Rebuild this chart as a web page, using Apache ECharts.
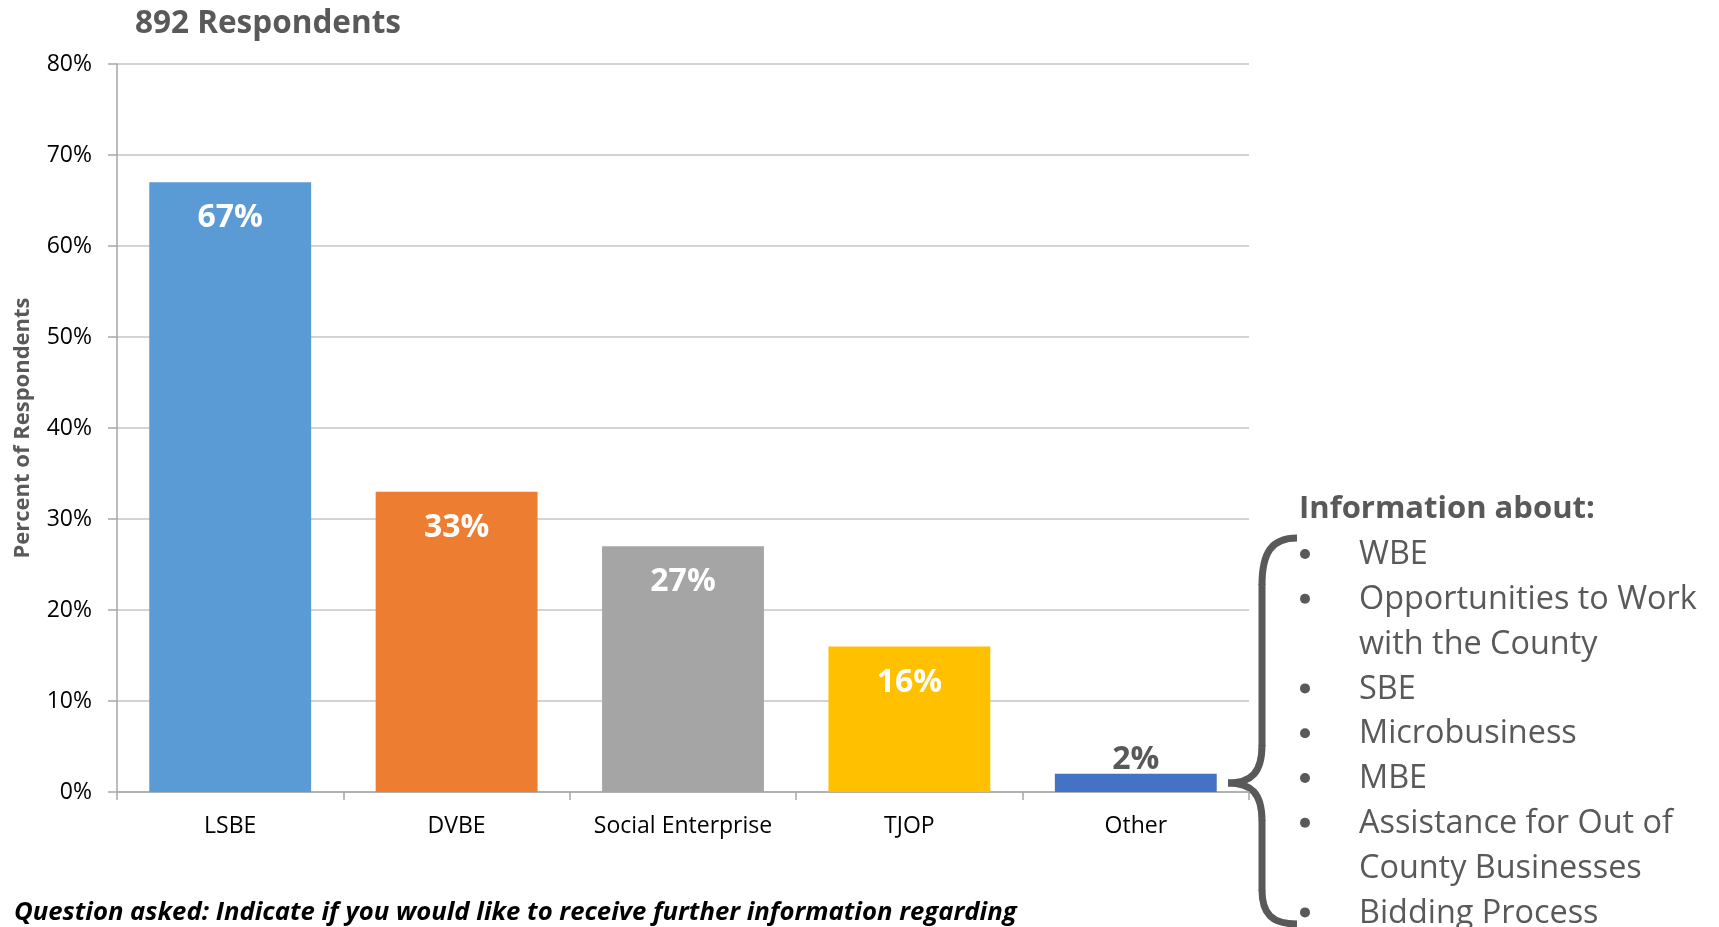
<!DOCTYPE html>
<html>
<head>
<meta charset="utf-8">
<title>892 Respondents</title>
<script src="https://cdn.jsdelivr.net/npm/echarts@6/dist/echarts.min.js"></script>
<style>
  html, body { margin: 0; padding: 0; background: #ffffff; }
  #chart { width: 1719px; height: 927px; }
</style>
</head>
<body>
<div id="chart"></div>
<script>
// Survey data: share of respondents wanting more information, by program
const categories = ['LSBE', 'DVBE', 'Social Enterprise', 'TJOP', 'Other'];
const percentValues = [67, 33, 27, 16, 2];
const barColors = ['#5B9BD5', '#ED7D31', '#A5A5A5', '#FFC000', '#4472C4'];

// Y axis range and tick step (percent)
const yMin = 0;
const yMax = 80;
const yStep = 10;

// Text blocks
const chartTitle = '892 Respondents';
const yAxisTitle = 'Percent of Respondents';
const footnote = 'Question asked: Indicate if you would like to receive further information regarding';
const sideHeading = 'Information about:';
// Each topic can wrap over several lines
const sideTopics = [
  ['WBE'],
  ['Opportunities to Work', 'with the County'],
  ['SBE'],
  ['Microbusiness'],
  ['MBE'],
  ['Assistance for Out of', 'County Businesses'],
  ['Bidding Process']
];

const FONT = '"Open Sans", "Liberation Sans", sans-serif';
const GREY_TEXT = '#595959';

// Right-hand bullet list, laid out line by line
const listX = 1359, bulletX = 1305, firstLineY = 555, lineStep = 44.8;
const sideGraphics = [];
let line = 0;
sideTopics.forEach(function (topic) {
  sideGraphics.push({
    type: 'circle',
    shape: { cx: bulletX, cy: firstLineY + line * lineStep - 1, r: 5 },
    style: { fill: GREY_TEXT }
  });
  topic.forEach(function (txt) {
    sideGraphics.push({
      type: 'text',
      style: {
        text: txt, x: listX, y: firstLineY + line * lineStep,
        fill: GREY_TEXT, fontFamily: FONT, fontSize: 32.4,
        textAlign: 'left', textVerticalAlign: 'middle'
      }
    });
    line++;
  });
});

// Curly brace joining the "Other" bar to the topic list
const braceStyle = { stroke: GREY_TEXT, lineWidth: 7, fill: 'none' };
function curve(x1, y1, cx1, cy1, cx2, cy2, x2, y2) {
  return { type: 'bezierCurve', shape: { x1: x1, y1: y1, cpx1: cx1, cpy1: cy1, cpx2: cx2, cpy2: cy2, x2: x2, y2: y2 }, style: braceStyle };
}
function straight(x1, y1, x2, y2) {
  return { type: 'line', shape: { x1: x1, y1: y1, x2: x2, y2: y2 }, style: braceStyle };
}
const braceGraphics = [
  curve(1297, 538, 1272, 538, 1262, 552, 1262, 585),
  straight(1262, 584, 1262, 746),
  curve(1262, 745, 1262, 772, 1252, 783, 1228, 783),
  curve(1228, 783, 1252, 783, 1262, 794, 1262, 821),
  straight(1262, 820, 1262, 891),
  curve(1262, 890, 1262, 914, 1272, 924, 1297, 924)
];

const chart = echarts.init(document.getElementById('chart'), null, { renderer: 'canvas' });

const option = {
  backgroundColor: '#ffffff',
  animation: false,
  grid: { left: 117, right: 470, top: 64, bottom: 135, containLabel: false },
  xAxis: {
    type: 'category',
    data: categories,
    boundaryGap: true,
    axisLine: { show: true, lineStyle: { color: '#A6A6A6', width: 1.5 } },
    axisTick: { show: true, interval: 0, length: 8, inside: false, lineStyle: { color: '#A6A6A6', width: 1.5 } },
    axisLabel: { interval: 0, hideOverlap: false, color: '#000000', fontFamily: FONT, fontSize: 23, margin: 23 },
    splitLine: { show: false }
  },
  yAxis: {
    type: 'value',
    min: yMin,
    max: yMax,
    interval: yStep,
    name: yAxisTitle,
    nameLocation: 'middle',
    nameRotate: 90,
    nameGap: 83,
    nameTextStyle: { color: GREY_TEXT, fontFamily: FONT, fontSize: 22, fontWeight: 'bold' },
    axisLine: { show: true, lineStyle: { color: '#A6A6A6', width: 1.5 } },
    axisTick: { show: true, length: 9, inside: false, lineStyle: { color: '#A6A6A6', width: 1.5 } },
    axisLabel: { color: '#000000', fontFamily: FONT, fontSize: 23, margin: 25, formatter: '{value}%' },
    splitLine: { show: true, lineStyle: { color: '#C4C4C4', width: 1.5 } }
  },
  series: [{
    type: 'bar',
    barCategoryGap: '28.5%',
    data: percentValues.map(function (v, i) {
      const small = v < 5;
      return {
        value: v,
        itemStyle: { color: barColors[i] },
        label: small
          ? { position: 'top', distance: -2, color: GREY_TEXT }
          : { position: 'insideTop', distance: 20, color: '#ffffff' }
      };
    }),
    label: {
      show: true,
      formatter: '{c}%',
      fontFamily: FONT,
      fontSize: 32,
      fontWeight: 'bold'
    }
  }],
  graphic: [
    {
      type: 'text',
      style: {
        text: chartTitle, x: 135, y: 24, fill: GREY_TEXT,
        fontFamily: FONT, fontSize: 31.5, fontWeight: 'bold',
        textAlign: 'left', textVerticalAlign: 'middle'
      }
    },
    {
      type: 'text',
      style: {
        text: footnote, x: 14, y: 913, fill: '#000000',
        fontFamily: FONT, fontSize: 25.7, fontWeight: 'bold', fontStyle: 'italic',
        textAlign: 'left', textVerticalAlign: 'middle'
      }
    },
    {
      type: 'text',
      style: {
        text: sideHeading, x: 1299, y: 509, fill: GREY_TEXT,
        fontFamily: FONT, fontSize: 31, fontWeight: 'bold',
        textAlign: 'left', textVerticalAlign: 'middle'
      }
    }
  ].concat(braceGraphics, sideGraphics)
};

chart.setOption(option);
</script>
</body>
</html>
